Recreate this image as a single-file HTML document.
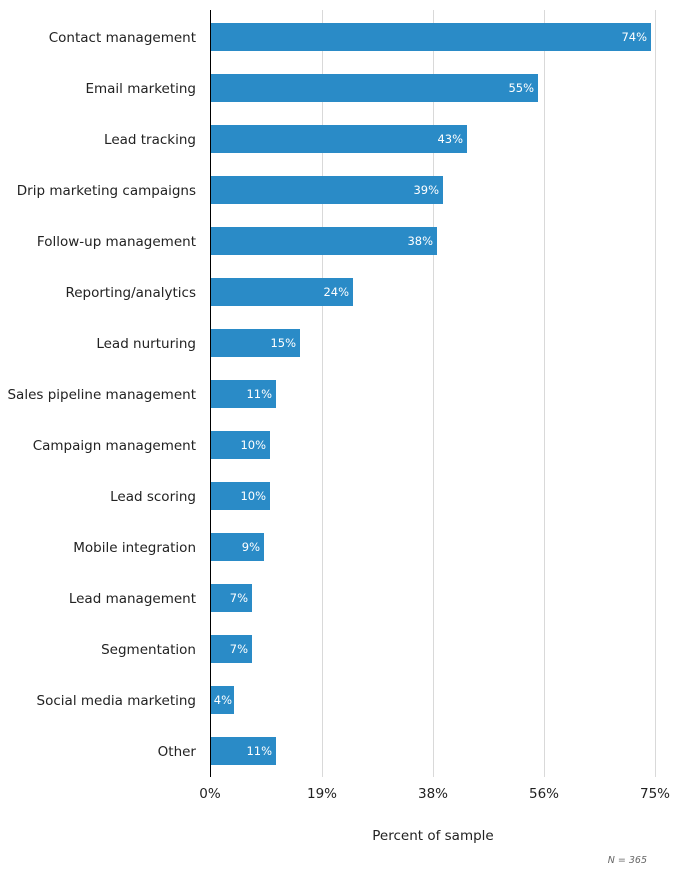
<!DOCTYPE html>
<html><head><style>
body{margin:0;background:#fff;font-family:"DejaVu Sans","Liberation Sans",sans-serif;}
</style></head><body>
<svg width="675" height="885" xmlns="http://www.w3.org/2000/svg" font-family="DejaVu Sans, Liberation Sans, sans-serif">
<g stroke="#d9d9d9" stroke-width="1">
<line x1="322.5" y1="10" x2="322.5" y2="777"/>
<line x1="433.5" y1="10" x2="433.5" y2="777"/>
<line x1="544.5" y1="10" x2="544.5" y2="777"/>
<line x1="655.5" y1="10" x2="655.5" y2="777"/>
</g>
<g fill="#2a8bc7">
<rect x="210" y="23" width="441" height="28"/>
<rect x="210" y="74" width="328" height="28"/>
<rect x="210" y="125" width="257" height="28"/>
<rect x="210" y="176" width="233" height="28"/>
<rect x="210" y="227" width="227" height="28"/>
<rect x="210" y="278" width="143" height="28"/>
<rect x="210" y="329" width="90" height="28"/>
<rect x="210" y="380" width="66" height="28"/>
<rect x="210" y="431" width="60" height="28"/>
<rect x="210" y="482" width="60" height="28"/>
<rect x="210" y="533" width="54" height="28"/>
<rect x="210" y="584" width="42" height="28"/>
<rect x="210" y="635" width="42" height="28"/>
<rect x="210" y="686" width="24" height="28"/>
<rect x="210" y="737" width="66" height="28"/>
</g>
<line x1="210.5" y1="10" x2="210.5" y2="777" stroke="#000" stroke-width="1"/>
<g font-size="13.5" fill="#222" text-anchor="end">
<text x="196" y="42">Contact management</text>
<text x="196" y="93">Email marketing</text>
<text x="196" y="144">Lead tracking</text>
<text x="196" y="195">Drip marketing campaigns</text>
<text x="196" y="246">Follow-up management</text>
<text x="196" y="297">Reporting/analytics</text>
<text x="196" y="348">Lead nurturing</text>
<text x="196" y="399">Sales pipeline management</text>
<text x="196" y="450">Campaign management</text>
<text x="196" y="501">Lead scoring</text>
<text x="196" y="552">Mobile integration</text>
<text x="196" y="603">Lead management</text>
<text x="196" y="654">Segmentation</text>
<text x="196" y="705">Social media marketing</text>
<text x="196" y="756">Other</text>
</g>
<g font-size="11.5" fill="#fff" text-anchor="end">
<text x="647" y="41">74%</text>
<text x="534" y="92">55%</text>
<text x="463" y="143">43%</text>
<text x="439" y="194">39%</text>
<text x="433" y="245">38%</text>
<text x="349" y="296">24%</text>
<text x="296" y="347">15%</text>
<text x="272" y="398">11%</text>
<text x="266" y="449">10%</text>
<text x="266" y="500">10%</text>
<text x="260" y="551">9%</text>
<text x="248" y="602">7%</text>
<text x="248" y="653">7%</text>
<text x="232" y="704">4%</text>
<text x="272" y="755">11%</text>
</g>
<g font-size="13.5" fill="#222" text-anchor="middle">
<text x="210" y="798">0%</text>
<text x="322" y="798">19%</text>
<text x="433" y="798">38%</text>
<text x="544" y="798">56%</text>
<text x="655" y="798">75%</text>
<text x="433" y="840">Percent of sample</text>
</g>
<text x="647" y="863" font-size="9.5" font-style="italic" fill="#666" text-anchor="end">N = 365</text>
</svg>
</body></html>
